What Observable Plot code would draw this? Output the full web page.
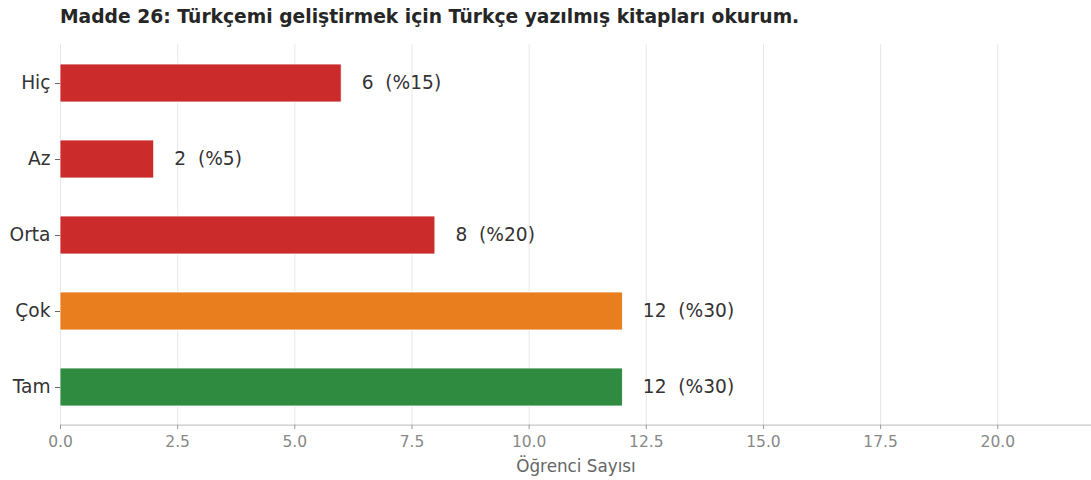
<!DOCTYPE html>
<html>
<head>
<meta charset="utf-8">
<script src="https://cdn.jsdelivr.net/npm/d3@7"></script>
<script src="https://cdn.jsdelivr.net/npm/@observablehq/plot@0.6"></script>
<style>
  html, body { margin: 0; padding: 0; background: #fff; }
  body { width: 1091px; height: 480px; overflow: hidden; font-family: "DejaVu Sans", sans-serif; }
  #title { height: 34px; box-sizing: border-box; padding-left: 60px; padding-top: 6px;
           font-size: 18.7px; font-weight: bold; color: #262626; white-space: nowrap; }
</style>
</head>
<body>
<div id="title">Madde 26: Türkçemi geliştirmek için Türkçe yazılmış kitapları okurum.</div>
<div id="chart"></div>
<script>
const categories = ["Hiç", "Az", "Orta", "Çok", "Tam"];
const counts = [6, 2, 8, 12, 12];
const percents = [15, 5, 20, 30, 30];
const barColors = ["#cc2b2b", "#cc2b2b", "#cc2b2b", "#e97e1f", "#2e8b40"];
const xTicks = [0, 2.5, 5, 7.5, 10, 12.5, 15, 17.5, 20];
const xLabel = "Öğrenci Sayısı";

const data = categories.map((c, i) => ({
  cat: c, n: counts[i], pct: percents[i], color: barColors[i],
  label: `${counts[i]}  (%${percents[i]})`
}));

const chart = Plot.plot({
  width: 1091,
  height: 446,
  marginTop: 10.4,
  marginBottom: 55.4,
  marginLeft: 60,
  marginRight: 0,
  style: { fontFamily: "DejaVu Sans, sans-serif", background: "#fff" },
  x: { domain: [0, 22], ticks: xTicks, label: null },
  y: { domain: categories, padding: 0.5, paddingOuter: 0.225, label: null },
  marks: [
    Plot.gridX(xTicks, { stroke: "#e6e6e6", strokeOpacity: 1, strokeWidth: 1 }),
    Plot.barX(data, { x: "n", y: "cat", fill: "color", stroke: "#fff", strokeWidth: 0.8 }),
    Plot.text(data, { x: "n", y: "cat", text: "label", textAnchor: "start", dx: 20,
      fontSize: 18.6, fill: "#333" }),
    Plot.frame({ anchor: "bottom", stroke: "#c8c8c8", strokeWidth: 1.3 }),
    Plot.axisX(xTicks, { tickFormat: d => d.toFixed(1), fontSize: 15.5, color: "#888",
      tickSize: 4.5, tickPadding: 6, stroke: "#999", label: null }),
    Plot.axisY({ fontSize: 18.6, color: "#333", tickSize: 5, tickPadding: 5, stroke: "#666", label: null }),
    Plot.text([xLabel], { frameAnchor: "bottom", dy: 47, fontSize: 16.8, fill: "#666",
      x: 11 })
  ]
});
document.getElementById("chart").appendChild(chart);
</script>
</body>
</html>
